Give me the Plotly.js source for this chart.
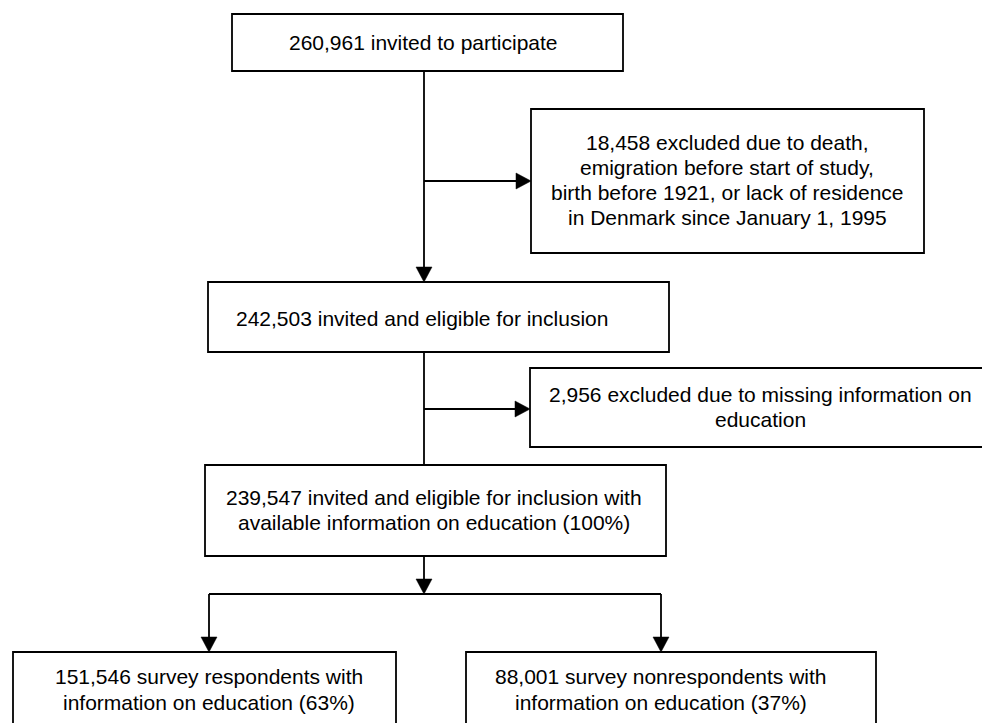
<!DOCTYPE html>
<html>
<head>
<meta charset="utf-8">
<script src="https://cdn.plot.ly/plotly-3.0.1.min.js"></script>
<style>html,body{margin:0;padding:0;background:#fff;}#chart{width:982px;height:723px;}</style>
</head>
<body>
<div id="chart"></div>
<script>
const stepNames = ["invited", "excluded1", "eligible", "excluded2", "eligibleEdu", "respondents", "nonrespondents"];
const counts = ["260,961", "18,458", "242,503", "2,956", "239,547", "151,546", "88,001"];
const boxLines = [
  ["260,961 invited to participate"],
  ["18,458 excluded due to death,", "emigration before start of study,", "birth before 1921, or lack of residence", "in Denmark since January 1, 1995"],
  ["242,503 invited and eligible for inclusion"],
  ["2,956 excluded due to missing information on", "education"],
  ["239,547 invited and eligible for inclusion with", "available information on education (100%)"],
  ["151,546 survey respondents with", "information on education (63%)"],
  ["88,001 survey nonrespondents with", "information on education (37%)"]
];
const percents = [null, null, null, null, 100, 63, 37];

// ---- Layout geometry (pixel-like data coordinates, y downward) ----
const boxes = [
  {x0: 232, x1: 623, y0: 14,  y1: 71,  tx: 423, ty: 42.5},
  {x0: 531, x1: 924, y0: 109, y1: 253, tx: 727, ty: 180},
  {x0: 208, x1: 669, y0: 282, y1: 352, tx: 422, ty: 318},
  {x0: 530, x1: 990, y0: 368, y1: 447, tx: 760, ty: 407},
  {x0: 205, x1: 666, y0: 465, y1: 556, tx: 434, ty: 510},
  {x0: 13,  x1: 396, y0: 652, y1: 740, tx: 209, ty: 689.5},
  {x0: 466, x1: 876, y0: 652, y1: 740, tx: 661, ty: 689.5}
];
const LW = 1.8;
const lineSpacing = 25.3;
const shapes = [];
const annotations = [];

function seg(x0, y0, x1, y1) {
  shapes.push({type: 'line', xref: 'x', yref: 'y', x0, y0, x1, y1, line: {color: '#000', width: LW}, layer: 'above'});
}
function headDown(x, y) {
  shapes.push({type: 'path', xref: 'x', yref: 'y', path: `M ${x-8} ${y-15} L ${x+8} ${y-15} L ${x} ${y} Z`, fillcolor: '#000', line: {color: '#000', width: 0.5}, layer: 'above'});
}
function headRight(x, y) {
  shapes.push({type: 'path', xref: 'x', yref: 'y', path: `M ${x-15} ${y-8} L ${x-15} ${y+8} L ${x} ${y} Z`, fillcolor: '#000', line: {color: '#000', width: 0.5}, layer: 'above'});
}

// connectors
seg(424, 71, 424, 267);   headDown(424, 282);
seg(424, 181, 517, 181);  headRight(531, 181);
seg(424, 352, 424, 465);
seg(424, 409, 516, 409);  headRight(530, 409);
seg(424, 556, 424, 580);  headDown(424, 594);
seg(209, 594, 661, 594);
seg(209, 594, 209, 638);  headDown(209, 652);
seg(661, 594, 661, 638);  headDown(661, 652);

// boxes and text
boxes.forEach((b, i) => {
  shapes.push({type: 'rect', xref: 'x', yref: 'y', x0: b.x0, x1: b.x1, y0: b.y0, y1: b.y1,
    line: {color: '#000', width: LW}, fillcolor: '#fff', layer: 'above'});
  const lines = boxLines[i];
  const n = lines.length;
  lines.forEach((t, j) => {
    annotations.push({x: b.tx, y: b.ty + (j - (n - 1) / 2) * lineSpacing, xref: 'x', yref: 'y',
      text: t, showarrow: false, xanchor: 'center', yanchor: 'middle',
      font: {family: 'Liberation Sans, Arial, sans-serif', size: 21, color: '#000'}});
  });
});

const layout = {
  width: 982, height: 723,
  margin: {l: 0, r: 0, t: 0, b: 0},
  paper_bgcolor: '#fff', plot_bgcolor: '#fff',
  xaxis: {range: [0, 982], visible: false, fixedrange: true},
  yaxis: {range: [723, 0], visible: false, fixedrange: true},
  showlegend: false,
  shapes, annotations
};
Plotly.newPlot('chart', [{x: [], y: [], type: 'scatter', mode: 'markers', hoverinfo: 'skip'}], layout, {staticPlot: true, displayModeBar: false});
</script>
</body>
</html>
